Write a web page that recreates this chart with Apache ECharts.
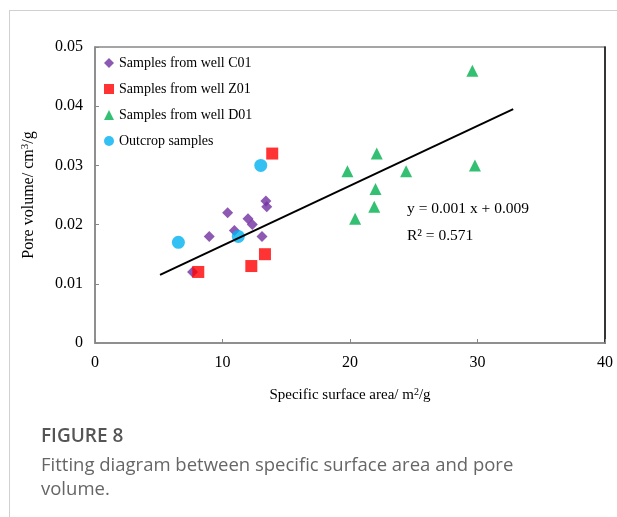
<!DOCTYPE html>
<html><head><meta charset="utf-8">
<script src="https://cdn.jsdelivr.net/npm/echarts@6/dist/echarts.min.js"></script>
<style>html,body{margin:0;padding:0;background:#fff}#c{width:617px;height:517px}</style>
</head><body><div id="c"></div>
<script>
const c01X = [7.65, 8.96, 10.4, 10.93, 12.0, 12.34, 13.1, 13.4, 13.47];
const c01Y = [0.012, 0.018, 0.022, 0.019, 0.021, 0.020, 0.018, 0.024, 0.023];
const z01X = [8.1, 13.9, 13.33, 12.26];
const z01Y = [0.012, 0.032, 0.015, 0.013];
const d01X = [29.6, 22.1, 19.8, 24.4, 29.8, 22.0, 21.9, 20.4];
const d01Y = [0.046, 0.032, 0.029, 0.029, 0.030, 0.026, 0.023, 0.021];
const outX = [13.0, 6.54, 11.24];
const outY = [0.030, 0.017, 0.018];
const trendX = [5.1, 32.8];
const trendY = [0.0115, 0.0395];
const xTicks = [0, 10, 20, 30, 40];
const yTicks = [0, 0.01, 0.02, 0.03, 0.04, 0.05];
const captionLine1 = 'Fitting diagram between specific surface area and pore';
const captionLine2 = 'volume.';

const zip = (a, b) => a.map((v, i) => [v, b[i]]);
const serif = 'Liberation Serif';
const capFont = '18.5px "Open Sans"';

const chart = echarts.init(document.getElementById('c'), null, {renderer: 'canvas'});
chart.setOption({
  animation: false,
  backgroundColor: '#fff',
  grid: {left: 95, top: 47, right: 12, bottom: 174, show: true, borderColor: '#888', borderWidth: 1.5},
  legend: {
    orient: 'vertical', left: 99, top: 51, itemGap: 12, itemWidth: 10, itemHeight: 10,
    textStyle: {fontFamily: serif, fontSize: 14, color: '#000'},
    data: ['Samples from well C01', 'Samples from well Z01', 'Samples from well D01', 'Outcrop samples']
  },
  xAxis: [{
    type: 'value', min: xTicks[0], max: xTicks[xTicks.length - 1], interval: 10,
    axisLine: {show: true, onZero: false, lineStyle: {color: '#888', width: 1.5}},
    axisTick: {show: true, inside: true, length: 4, lineStyle: {color: '#888'}},
    axisLabel: {fontFamily: serif, fontSize: 16, color: '#000', margin: 12},
    splitLine: {show: false},
    name: '{a|Specific surface area/ m}{s|2}{a|/g}', nameLocation: 'middle', nameGap: 44,
    nameTextStyle: {rich: {a: {fontFamily: serif, fontSize: 15, color: '#000'}, s: {fontFamily: serif, fontSize: 10, color: '#000', padding: [0, 0, 7, 0]}}}
  }],
  yAxis: [{
    type: 'value', min: yTicks[0], max: yTicks[yTicks.length - 1], interval: 0.01,
    axisLine: {show: true, lineStyle: {color: '#888', width: 1.5}},
    axisTick: {show: true, inside: true, length: 4, lineStyle: {color: '#888'}},
    axisLabel: {fontFamily: serif, fontSize: 16, color: '#000', margin: 12, formatter: v => v === 0 ? '0' : v.toFixed(2)},
    splitLine: {show: false},
    name: '{a|Pore volume/ cm}{s|3}{a|/g}', nameLocation: 'middle', nameGap: 57, nameRotate: 90,
    nameTextStyle: {rich: {a: {fontFamily: serif, fontSize: 16, color: '#000'}, s: {fontFamily: serif, fontSize: 11, color: '#000', padding: [0, 0, 7, 0]}}}
  }, {
    type: 'value', position: 'right', min: 0, max: 0.05, interval: 0.01,
    axisLine: {show: true, lineStyle: {color: '#111', width: 1.5}},
    axisTick: {show: false}, axisLabel: {show: false}, splitLine: {show: false}
  }],
  series: [
    {name: 'Samples from well C01', type: 'scatter', symbol: 'diamond', symbolSize: 11, itemStyle: {color: '#7030A0'}, data: zip(c01X, c01Y), z: 3},
    {name: 'Samples from well Z01', type: 'scatter', symbol: 'rect', symbolSize: 12, itemStyle: {color: '#FF0000'}, data: zip(z01X, z01Y), z: 4},
    {name: 'Samples from well D01', type: 'scatter', symbol: 'triangle', symbolSize: 12, itemStyle: {color: '#00B050'}, data: zip(d01X, d01Y), z: 3},
    {name: 'Outcrop samples', type: 'scatter', symbol: 'circle', symbolSize: 13, itemStyle: {color: '#00B0F0'}, data: zip(outX, outY), z: 3},
    {name: 'trend', type: 'line', data: zip(trendX, trendY), showSymbol: false, symbol: 'none', lineStyle: {color: '#000', width: 2}, z: 5, silent: true}
  ],
  graphic: [
    {type: 'line', shape: {x1: 9.5, y1: 10, x2: 9.5, y2: 517}, style: {stroke: '#d0d0d0', lineWidth: 1}},
    {type: 'line', shape: {x1: 9, y1: 10.5, x2: 617, y2: 10.5}, style: {stroke: '#d0d0d0', lineWidth: 1}},
    {type: 'text', left: 407, top: 201, style: {text: 'y = 0.001 x + 0.009', font: '15.5px "Liberation Serif"', fill: '#000'}},
    {type: 'text', left: 407, top: 228, style: {text: 'R² = 0.571', font: '15.5px "Liberation Serif"', fill: '#000'}},
    {type: 'text', left: 41, top: 427, style: {text: 'FIGURE 8', font: '600 19px "Open Sans"', fill: '#555'}},
    {type: 'text', left: 41, top: 456, style: {text: captionLine1, font: capFont, fill: '#666'}},
    {type: 'text', left: 41, top: 480, style: {text: captionLine2, font: capFont, fill: '#666'}}
  ]
});
</script></body></html>
